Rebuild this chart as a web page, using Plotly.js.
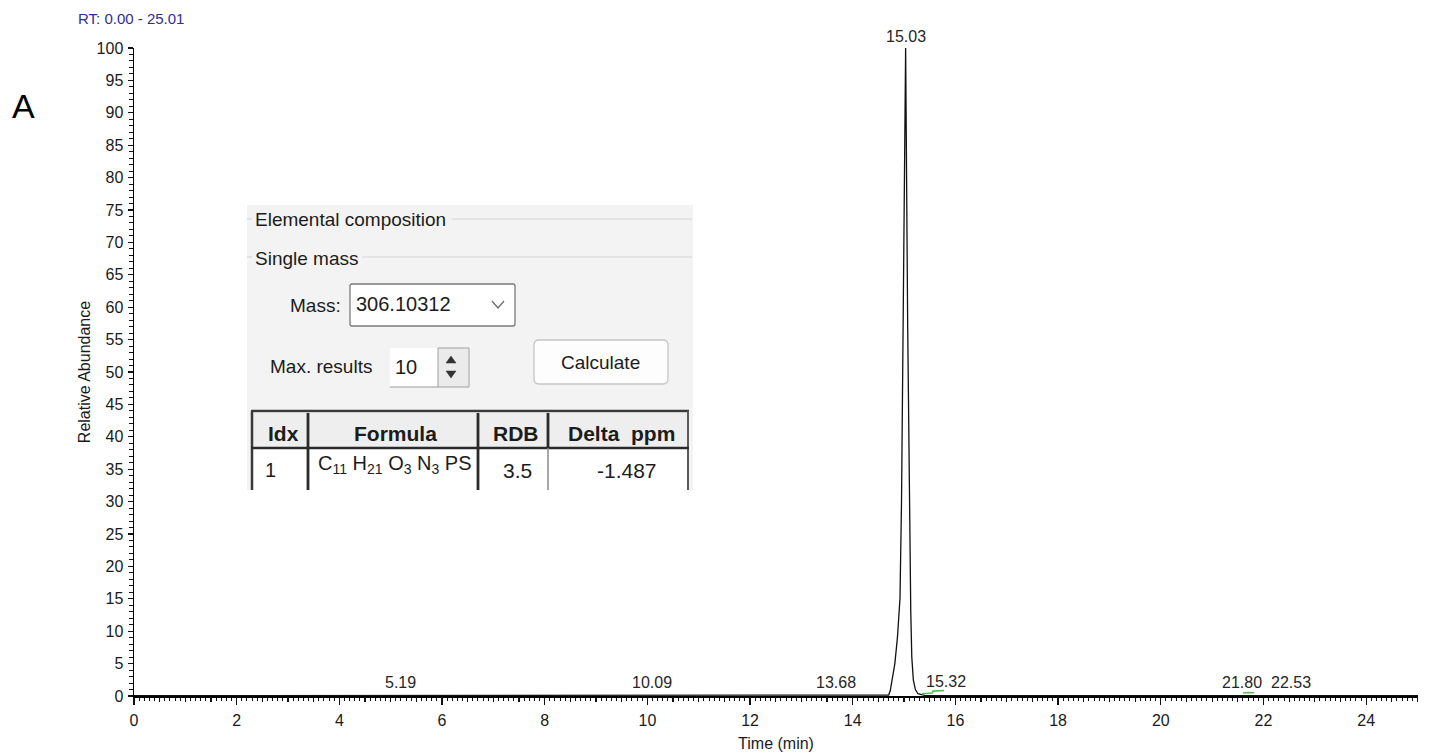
<!DOCTYPE html>
<html>
<head>
<meta charset="utf-8">
<script src="https://cdn.plot.ly/plotly-3.0.1.min.js"></script>
<style>
html,body{margin:0;padding:0;background:#fff;}
#chart{width:1432px;height:756px;}
</style>
</head>
<body>
<div id="chart"></div>
<script>
// ---------------- DATA ----------------
// Main chromatogram (black trace): retention time (min) and relative abundance (%)
const rtTime = [0.00, 1.00, 2.00, 3.00, 4.00, 5.00, 5.19, 5.40, 6.50, 8.00, 9.50, 10.09, 10.30, 11.50, 12.80,
  13.50, 13.68, 13.90, 14.40, 14.70, 14.73, 14.77, 14.82, 14.87, 14.92, 14.95, 14.97, 14.99, 15.03,
  15.07, 15.09, 15.11, 15.13, 15.15, 15.18, 15.22, 15.27, 15.32, 15.40, 16.50, 18.00, 19.50, 21.00,
  21.80, 22.10, 22.53, 22.90, 24.00, 25.01];
const rtAbund = [0.05, 0.05, 0.05, 0.05, 0.05, 0.05, 0.08, 0.05, 0.05, 0.05, 0.05, 0.08, 0.05, 0.05, 0.05,
  0.05, 0.10, 0.06, 0.08, 0.15, 0.8, 2.5, 5.0, 9.0, 15.0, 30.0, 46.0, 61.0, 100.0,
  57.0, 40.0, 22.0, 13.0, 6.0, 2.5, 1.0, 0.35, 0.25, 0.10, 0.05, 0.05, 0.05, 0.05,
  0.08, 0.05, 0.07, 0.05, 0.05, 0.05];

// Second trace (green), only visible where it rises above the baseline
const greenTime  = [15.35, 15.45, 15.55, 15.56, 15.65, 15.78, null, 21.60, 21.70, 21.82];
const greenAbund = [0.35, 0.40, 0.45, 0.75, 0.80, 0.85, null, 0.45, 0.55, 0.50];

// Peak labels
const peakLabels = ["5.19", "10.09", "13.68", "15.03", "15.32", "21.80", "22.53"];
const peakTimes  = [5.19, 10.09, 13.68, 15.03, 15.32, 21.80, 22.53];
const peakHeights= [0.30, 0.30, 0.35, 100.0, 0.40, 0.30, 0.25];

// Axis ticks
const xTickVals = [0, 2, 4, 6, 8, 10, 12, 14, 16, 18, 20, 22, 24];
const xTickText = ["0", "2", "4", "6", "8", "10", "12", "14", "16", "18", "20", "22", "24"];
const yTickVals = [0, 5, 10, 15, 20, 25, 30, 35, 40, 45, 50, 55, 60, 65, 70, 75, 80, 85, 90, 95, 100];
const yTickText = ["0", "5", "10", "15", "20", "25", "30", "35", "40", "45", "50", "55", "60", "65", "70", "75", "80", "85", "90", "95", "100"];

// Texts
const rangeLabel = "RT: 0.00 - 25.01";
const panelLetter = "A";
const xTitle = "Time (min)";
const yTitle = "Relative Abundance";

// Inset (elemental composition dialog) texts
const insetHeading = "Elemental composition";
const insetSub = "Single mass";
const massLabel = "Mass:";
const massValue = "306.10312";
const maxLabel = "Max. results";
const maxValue = "10";
const buttonLabel = "Calculate";
const tableHeaders = ["Idx", "Formula", "RDB", "Delta&nbsp;&nbsp;ppm"];
const tableRow = ["1", "C<sub>11</sub> H<sub>21</sub> O<sub>3</sub> N<sub>3</sub> PS", "3.5", "-1.487"];

// ---------------- LAYOUT HELPERS ----------------
const W = 1432, H = 756;
const L = 134, R = 1418, T = 48, B = 696;
function px(x){ return (x - L) / (R - L); }
function py(y){ return (B - y) / (B - T); }
const SANS = "'Liberation Sans', Arial, sans-serif";

const shapes = [];
const annotations = [];

function rect(x0, y0, x1, y1, fill, lineColor, lw){
  shapes.push({type:'rect', xref:'paper', yref:'paper', x0:px(x0), x1:px(x1), y0:py(y1), y1:py(y0),
    fillcolor: fill || 'rgba(0,0,0,0)', line:{color: lineColor || 'rgba(0,0,0,0)', width: lw || 0}, layer:'above'});
}
function line(x0, y0, x1, y1, color, lw){
  shapes.push({type:'line', xref:'paper', yref:'paper', x0:px(x0), x1:px(x1), y0:py(y0), y1:py(y1),
    line:{color: color, width: lw}, layer:'above'});
}
function pathPx(points, fill, color, lw, close){
  let d = points.map((p, i) => (i ? 'L' : 'M') + px(p[0]) + ',' + py(p[1])).join(' ');
  if (close) d += ' Z';
  shapes.push({type:'path', xref:'paper', yref:'paper', path:d, fillcolor: fill || 'rgba(0,0,0,0)',
    line:{color: color || 'rgba(0,0,0,0)', width: lw || 0}, layer:'above'});
}
function roundRect(x0, y0, x1, y1, r, fill, color, lw){
  const P = (x, y) => px(x) + ',' + py(y);
  const d = 'M' + P(x0 + r, y0) + ' L' + P(x1 - r, y0) + ' Q' + P(x1, y0) + ' ' + P(x1, y0 + r) +
    ' L' + P(x1, y1 - r) + ' Q' + P(x1, y1) + ' ' + P(x1 - r, y1) +
    ' L' + P(x0 + r, y1) + ' Q' + P(x0, y1) + ' ' + P(x0, y1 - r) +
    ' L' + P(x0, y0 + r) + ' Q' + P(x0, y0) + ' ' + P(x0 + r, y0) + ' Z';
  shapes.push({type:'path', xref:'paper', yref:'paper', path:d, fillcolor: fill,
    line:{color: color, width: lw}, layer:'above'});
}
function text(t, x, y, opts){
  opts = opts || {};
  annotations.push({xref:'paper', yref:'paper', x:px(x), y:py(y), text:t, showarrow:false,
    xanchor: opts.xanchor || 'left', yanchor: opts.yanchor || 'middle',
    font:{family: opts.family || SANS, size: opts.size || 19, color: opts.color || '#1c1c1c'}});
}

// ---------------- INSET ----------------
rect(247, 205, 693, 490, '#f3f3f3');
line(247, 219, 252, 219, '#d6d6d6', 1.2);
line(452, 219, 692, 219, '#d6d6d6', 1.2);
text(insetHeading, 253, 220, {size: 19});
line(247, 257, 252, 257, '#d6d6d6', 1.2);
line(362, 257, 692, 257, '#d6d6d6', 1.2);
text(insetSub, 253, 258, {size: 19});

text(massLabel, 343, 305, {xanchor:'right', size: 19});
roundRect(350, 284, 515, 326, 2, '#ffffff', '#7a7a7a', 1.3);
text(massValue, 354, 304, {size: 20});
pathPx([[492, 301], [498, 308], [504, 301]], null, '#6a6a6a', 1.2, false);

text(maxLabel, 268, 366, {size: 19});
rect(390, 348, 438, 387, '#ffffff');
rect(438, 348, 469, 387, '#ebebeb', '#a0a0a0', 1);
line(390, 387, 438, 387, '#9a9a9a', 1);
text(maxValue, 393, 367, {size: 20});
pathPx([[446, 363], [451, 356], [456, 363]], '#333333', '#333333', 0.5, true);
pathPx([[446, 371], [451, 378], [456, 371]], '#333333', '#333333', 0.5, true);

roundRect(534, 340, 668, 384, 5, '#fdfdfd', '#c6c6c6', 1.3);
text(buttonLabel, 600, 362, {xanchor:'center', size: 19});

// table
rect(251, 411, 689, 490, '#ffffff');
rect(251, 413, 689, 448, '#eeeeee');
line(251, 411, 689, 411, '#3a3a3a', 2.5);
line(252, 411, 252, 490, '#3a3a3a', 2.5);
line(688, 411, 688, 490, '#5a5a5a', 2);
line(251, 448, 689, 448, '#2a2a2a', 2.5);
line(308, 413, 308, 490, '#2a2a2a', 2.8);
line(478, 413, 478, 490, '#2a2a2a', 2.8);
line(548, 413, 548, 448, '#2a2a2a', 2.8);
line(548, 448, 548, 490, '#8a8a8a', 1.5);
const headerX = [283, 395, 516, 621];
tableHeaders.forEach((h, i) => text('<b>' + h + '</b>', headerX[i], 433, {xanchor:'center', size: 21}));
text(tableRow[0], 263, 470, {size: 20});
text(tableRow[1], 316, 464, {size: 20});
text(tableRow[2], 517, 470, {xanchor:'center', size: 21});
text(tableRow[3], 627, 470, {xanchor:'center', size: 21});

// ---------------- CHART LABELS ----------------
annotations.push({xref:'paper', yref:'paper', x:px(76), y:py(19), text:rangeLabel, showarrow:false,
  xanchor:'left', yanchor:'middle', font:{family: SANS, size: 15, color:'#2e2e9e'}});
annotations.push({xref:'paper', yref:'paper', x:px(10), y:py(106), text:panelLetter, showarrow:false,
  xanchor:'left', yanchor:'middle', font:{family: SANS, size: 34, color:'#000000'}});

const peakShift = {"15.32": 25, "21.80": -11};
peakLabels.forEach((lab, i) => {
  annotations.push({xref:'x', yref:'y', x: peakTimes[i], y: peakHeights[i], text: lab, showarrow:false,
    xanchor:'center', yanchor:'bottom', yshift: 1, xshift: peakShift[lab] || 0,
    font:{family: SANS, size: 16, color:'#262626'}});
});

// ---------------- TRACES ----------------
const traces = [
  {x: rtTime, y: rtAbund, type:'scatter', mode:'lines', line:{color:'#111111', width:1.3}, hoverinfo:'skip', xaxis:'x', yaxis:'y'},
  {x: greenTime, y: greenAbund, type:'scatter', mode:'lines', line:{color:'#5cb85c', width:1.6}, connectgaps:false, hoverinfo:'skip', xaxis:'x2', yaxis:'y'}
];

const tickFont = {family: SANS, size: 16, color:'#1a1a1a'};
const layout = {
  width: W, height: H,
  margin: {l: L, r: W - R, t: T, b: H - B, pad: 0},
  paper_bgcolor: '#ffffff', plot_bgcolor: '#ffffff',
  showlegend: false,
  xaxis: {
    range: [0, 25.01], tickmode:'array', tickvals: xTickVals, ticktext: xTickText,
    ticks:'outside', ticklen: 7, tickwidth: 1.3, tickcolor:'#111',
    minor: {dtick: 0.1, tick0: 0, ticks:'outside', ticklen: 2.5, tickwidth: 1, tickcolor:'#111', showgrid:false},
    showline: true, linecolor:'#000', linewidth: 2, showgrid: false, zeroline: false,
    tickfont: tickFont, ticklabelstandoff: 2,
    title: {text: xTitle, font: {family: SANS, size: 16, color:'#1a1a1a'}, standoff: 10}
  },
  xaxis2: {
    range: [0, 25.01], overlaying: 'x', anchor: 'y', side: 'bottom',
    tickmode: 'linear', tick0: 0, dtick: 0.5, ticks: 'outside', ticklen: 4.5, tickwidth: 1.2, tickcolor:'#111',
    showticklabels: false, showline: false, showgrid: false, zeroline: false
  },
  yaxis: {
    range: [0, 100], tickmode:'array', tickvals: yTickVals, ticktext: yTickText,
    ticks:'outside', ticklen: 5, tickwidth: 1.3, tickcolor:'#111',
    minor: {dtick: 1, tick0: 0, ticks:'outside', ticklen: 4, tickwidth: 1, tickcolor:'#111', showgrid:false},
    showline: true, linecolor:'#000', linewidth: 1.5, showgrid: false, zeroline: false,
    tickfont: tickFont, ticklabelstandoff: 1,
    title: {text: yTitle, font: {family: SANS, size: 16, color:'#1a1a1a'}, standoff: 2}
  },
  shapes: shapes,
  annotations: annotations
};

Plotly.newPlot('chart', traces, layout, {displayModeBar: false, staticPlot: true});
</script>
</body>
</html>
